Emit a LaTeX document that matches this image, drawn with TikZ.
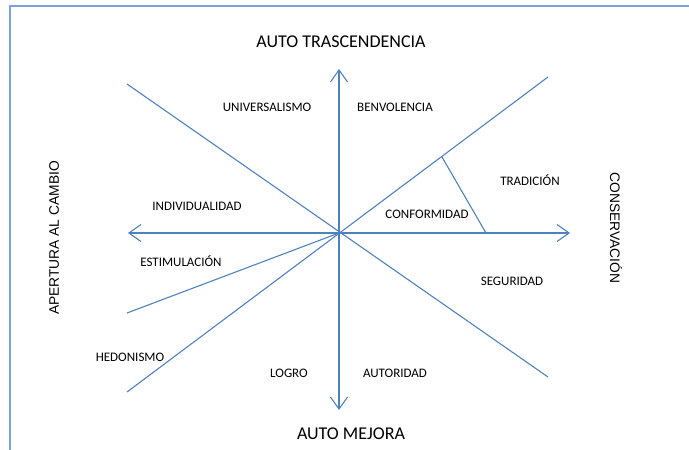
\documentclass[tikz,border=0pt]{standalone}
\usepackage{fontspec}
\setmainfont{Carlito}
\newfontfamily\arialfont{Liberation Sans}
\usetikzlibrary{arrows.meta}
\definecolor{axisblue}{HTML}{4F81BD}
\definecolor{frameblue}{HTML}{7FA2D6}
\tikzset{
  axisline/.style={draw=axisblue, line width=1.1pt},
  axisarrow/.style={axisline, -{Straight Barb[length=12pt,width=17pt,line width=1.1pt]}},
  valuelabel/.style={font=\fontsize{13}{15}\selectfont, inner sep=0pt},
  polelabel/.style={font=\fontsize{18}{20}\selectfont, inner sep=0pt},
  sidelabel/.style={font=\arialfont\fontsize{13.8}{16}\selectfont, inner sep=0pt},
}
\begin{document}
\begin{tikzpicture}[x=1pt,y=-1pt]
      \useasboundingbox (0,0) rectangle (689,450);
      % frame of the page
      \draw[frameblue, line width=1.3pt] (10,450) -- (10,6) -- (689,6);
      \path
        (339,233) coordinate (c)
        (339,69) coordinate (up)
        (339,410) coordinate (down)
        (128,233) coordinate (left)
        (570,233) coordinate (right)
        (127,84) coordinate (ul)
        (548,377) coordinate (lr)
        (548,77) coordinate (ur)
        (127,392) coordinate (ll)
        (127,313) coordinate (lm)
        (442,157) coordinate (cf1)
        (486,233) coordinate (cf2);
      \begin{scope}[axisarrow]
        \draw (c) to (up);
        \draw (c) to (down);
        \draw (c) to (left);
        \draw (c) to (right);
      \end{scope}
      \begin{scope}[axisline]
        \draw (ul) to (lr);
        \draw (ur) to (ll);
        \draw (c) to (lm);
        \draw (cf1) to (cf2);
      \end{scope}
      % poles
      \node[polelabel] (trasc) at (341,42) {AUTO TRASCENDENCIA};
      \node[polelabel] (mejora) at (351,434) {AUTO MEJORA};
      \node[sidelabel, rotate=90] (apertura) at (54,238) {APERTURA AL CAMBIO};
      \node[sidelabel, rotate=-90] (conserv) at (616,228) {CONSERVACIÓN};
      % values
      \node[valuelabel] (univ) at (267,107) {UNIVERSALISMO};
      \node[valuelabel] (benv) at (395,107) {BENVOLENCIA};
      \node[valuelabel] (trad) at (530,180) {TRADICIÓN};
      \node[valuelabel] (conf) at (427,214) {CONFORMIDAD};
      \node[valuelabel] (indiv) at (197,206) {INDIVIDUALIDAD};
      \node[valuelabel] (estim) at (181,261) {ESTIMULACIÓN};
      \node[valuelabel] (segur) at (512,281) {SEGURIDAD};
      \node[valuelabel] (hedon) at (130,357) {HEDONISMO};
      \node[valuelabel] (logro) at (289,373) {LOGRO};
      \node[valuelabel] (autor) at (395,373) {AUTORIDAD};
\end{tikzpicture}
\end{document}
